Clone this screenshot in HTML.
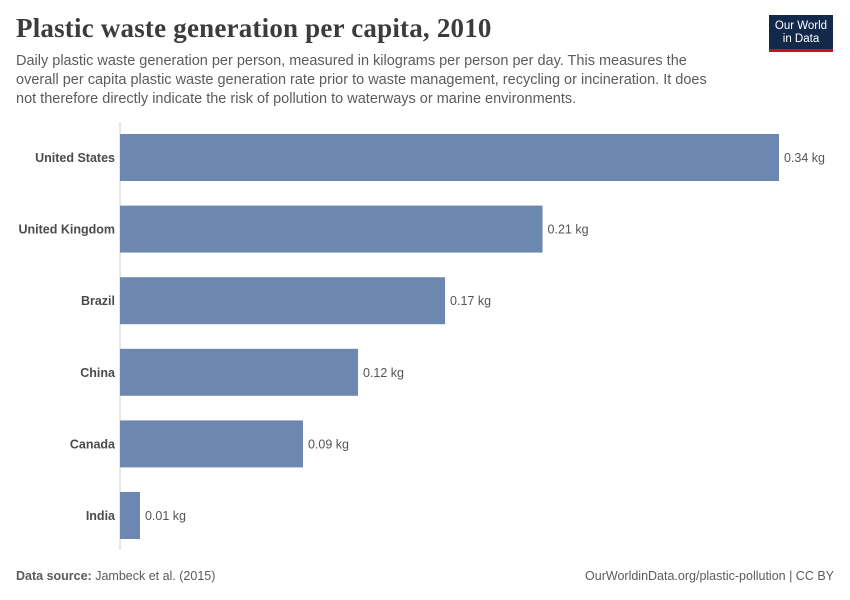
<!DOCTYPE html>
<html><head><meta charset="utf-8">
<style>
body{margin:0;width:850px;height:600px;background:#fff;font-family:"Liberation Sans",sans-serif;overflow:hidden;position:relative}
.title{position:absolute;left:16px;top:13px;font-family:"Liberation Serif",serif;font-size:27px;color:#3c3c3c;font-weight:bold;letter-spacing:0.2px}
.sub{position:absolute;left:16px;top:52px;width:704px;font-size:14.5px;line-height:19px;color:#5b5b5b}
.logo{position:absolute;left:769px;top:15px;width:64px;height:37px;background:#12294b;border-bottom:3px solid #c8102e;color:#fff;font-size:11.5px;line-height:13px;text-align:center;padding-top:5px;box-sizing:border-box}
.foot{position:absolute;top:569px;font-size:12.5px;color:#5b5b5b}
</style></head><body>
<div class="title">Plastic waste generation per capita, 2010</div>
<div class="sub">Daily plastic waste generation per person, measured in kilograms per person per day. This measures the overall per capita plastic waste generation rate prior to waste management, recycling or incineration. It does not therefore directly indicate the risk of pollution to waterways or marine environments.</div>
<div class="logo">Our World<br>in Data</div>
<svg id="chart" width="850" height="600" style="position:absolute;left:0;top:0"></svg>
<div class="foot" style="left:16px"><b>Data source:</b> Jambeck et al. (2015)</div>
<div class="foot" style="right:16px">OurWorldinData.org/plastic-pollution | CC BY</div>
<script>
const categories=["United States","United Kingdom","Brazil","China","Canada","India"];
const values=[0.34,0.218,0.1677,0.1228,0.0944,0.0103];
const labels=["0.34 kg","0.21 kg","0.17 kg","0.12 kg","0.09 kg","0.01 kg"];
const svg=document.getElementById('chart');
const NS="http://www.w3.org/2000/svg";
const x0=120,pxPer=659/0.34,y0=134,step=71.6,bh=47;
function xs(v){return x0+v*pxPer;}
function ys(i){return y0+i*step;}
const ax=document.createElementNS(NS,'line');


ax.setAttribute('x1',x0);ax.setAttribute('x2',x0);ax.setAttribute('y1',122);ax.setAttribute('y2',550);
ax.setAttribute('stroke','#ccc');svg.appendChild(ax);
categories.forEach((c,i)=>{
 const r=document.createElementNS(NS,'rect');
 
 
 r.setAttribute('x',x0);r.setAttribute('y',ys(i));r.setAttribute('width',xs(values[i])-x0);r.setAttribute('height',bh);
 r.setAttribute('fill','#6d88b0');svg.appendChild(r);
 const t=document.createElementNS(NS,'text');
 
 
 t.setAttribute('x',115);t.setAttribute('y',ys(i)+bh/2+4.5);t.setAttribute('text-anchor','end');
 t.setAttribute('font-size','12.5');t.setAttribute('font-weight','bold');t.setAttribute('fill','#4b4b4b');
 t.textContent=c;svg.appendChild(t);
 const v=document.createElementNS(NS,'text');
 
 
 v.setAttribute('x',xs(values[i])+5);v.setAttribute('y',ys(i)+bh/2+4.5);
 v.setAttribute('font-size','12.5');v.setAttribute('fill','#555');
 v.textContent=labels[i];svg.appendChild(v);
});
</script>
</body></html>
